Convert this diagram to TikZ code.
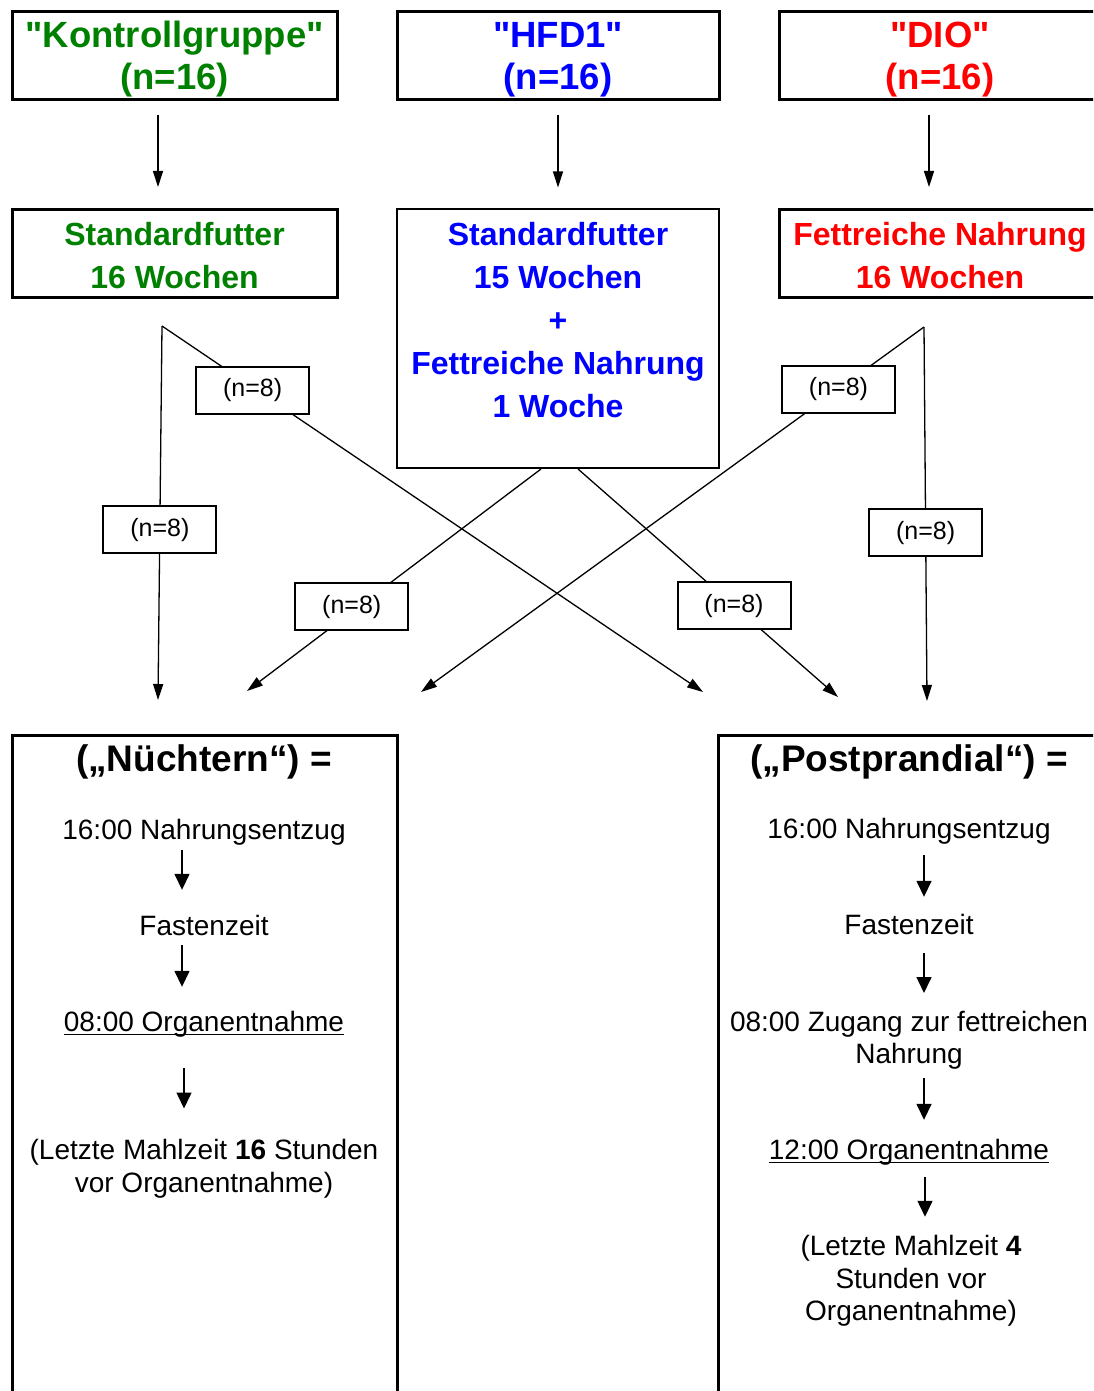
\documentclass[tikz,border=0pt]{standalone}
\usepackage{fontspec}
\setmainfont{Liberation Sans}[Ligatures=TeXOff]
\usetikzlibrary{arrows.meta}
\definecolor{kgreen}{RGB}{0,128,0}
\newcommand\ulin[1]{\setbox0\hbox{#1}\rlap{\rule[-3.5pt]{\wd0}{1.5pt}}\box0}

\begin{document}
\begin{tikzpicture}[
  x=1pt, y=-1pt,
  group_box/.style={draw, line width=3pt, minimum width=322pt, minimum height=88pt, inner sep=0pt, align=center, text height=75.5pt, font=\fontsize{36.5}{42}\selectfont\bfseries},
  diet_txt/.style={inner sep=0pt, align=center, font=\fontsize{32}{43}\selectfont\bfseries},
  diet_box/.style={diet_txt, draw, line width=3pt, minimum width=322pt, minimum height=88pt, text height=71pt},
  n_box/.style={draw, fill=white, line width=2pt, minimum width=113pt, minimum height=47pt, inner sep=0pt, font=\fontsize{25}{30}\selectfont},
  result_box/.style={draw, line width=3pt, minimum height=690pt, inner sep=0pt},
  result_title/.style={inner sep=0pt, font=\fontsize{37}{42}\selectfont\bfseries},
  step_txt/.style={inner sep=0pt, text height=21pt, text depth=6pt, font=\fontsize{28}{32.5}\selectfont},
  multi_txt/.style={inner sep=0pt, align=center, font=\fontsize{28}{32.5}\selectfont},
  split_arrow/.style={line width=1.3pt, -{Triangle[length=16pt, width=10pt]}},
  time_arrow/.style={line width=1.5pt, -{Triangle[length=16pt, width=15pt]}},
]
\useasboundingbox (0,0) rectangle (1093,1391);
\clip (0,0) rectangle (1093,1391);

% groups
\draw (174.5,56) node (kTop) [group_box, minimum width=325pt, text=kgreen] {"Kontrollgruppe"\\(n=16)};
\draw (558,56) node (hTop) [group_box, text=blue] {"HFD1"\\(n=16)};
\draw (940,56) node (dTop) [group_box, text=red] {"DIO"\\(n=16)};

% diets
\draw (174.5,253) node (kMid) [diet_box, minimum width=325pt, text=kgreen] {Standardfutter\\16 Wochen};
\draw (558,338.5) node (hMid) [diet_box, line width=2pt, minimum height=259pt] {};
\draw (558,320.5) node (hMidTxt) [diet_txt, text=blue] {Standardfutter\\15 Wochen\\+\\Fettreiche Nahrung\\1 Woche};
\draw (940,253) node (dMid) [diet_box, text=red] {Fettreiche Nahrung\\16 Wochen};

\draw[split_arrow, shorten <=13.5pt, shorten >=20.5pt] ([xshift=-16.5pt]kTop.south) -- ([xshift=-16.5pt]kMid.north);
\draw[split_arrow, shorten <=13.5pt, shorten >=20.5pt] (hTop.south) -- (hMid.north);
\draw[split_arrow, shorten <=13.5pt, shorten >=20.5pt] ([xshift=-11pt]dTop.south) -- ([xshift=-11pt]dMid.north);

% splitting into the two sampling times
\coordinate (kFork) at (162,326);
\coordinate (dFork) at (924,327);
\coordinate (kEndL) at (158,700);
\coordinate (kEndR) at (703,692);
\coordinate (hEndL) at (247,691);
\coordinate (hEndR) at (838,697);
\coordinate (dEndL) at (421,692);
\coordinate (dEndR) at (927,701);

\draw[split_arrow] (kFork) -- node[n_box, pos=0.545] (kN1) {(n=8)} (kEndL);
\draw[split_arrow] (kFork) -- node[n_box, pos=0.175, xshift=-4pt] (kN2) {(n=8)} (kEndR);
\draw[split_arrow] ([xshift=-17pt]hMid.south) -- node[n_box, pos=0.62, xshift=-7pt] (hN1) {(n=8)} (hEndL);
\draw[split_arrow] ([xshift=20pt]hMid.south) -- node[n_box, pos=0.6] (hN2) {(n=8)} (hEndR);
\draw[split_arrow] (dFork) -- node[n_box, pos=0.17] (dN1) {(n=8)} (dEndL);
\draw[split_arrow] (dFork) -- node[n_box, pos=0.55] (dN2) {(n=8)} (dEndR);

% fasting
\draw (204.5,1080) node (nBox) [result_box, minimum width=385pt] {};
\draw (204,762) node (nTitle) [result_title] {(„Nüchtern“) =};
\draw (204,831.5) node (n1) [step_txt] {16:00 Nahrungsentzug};
\draw (204,928) node (n2) [step_txt] {Fastenzeit};
\draw (204,1024) node (n3) [step_txt] {\ulin{08:00 Organentnahme}};
\draw (204,1168.5) node (n4) [multi_txt] {(Letzte Mahlzeit \textbf{16} Stunden\\vor Organentnahme)};

\draw[time_arrow, shorten <=5pt, shorten >=24.5pt] ([xshift=-22pt]n1.south) -- ([xshift=-22pt]n2.north);
\draw[time_arrow, shorten <=3.5pt, shorten >=23.5pt] ([xshift=-22pt]n2.south) -- ([xshift=-22pt]n3.north);
\draw[time_arrow, shorten <=30.5pt, shorten >=30.5pt] ([xshift=-20pt]n3.south) -- ([xshift=-20pt]n4.north);

% postprandial
\draw (909.5,1080) node (pBox) [result_box, minimum width=383pt] {};
\draw (909,762) node (pTitle) [result_title] {(„Postprandial“) =};
\draw (909,831) node (p1) [step_txt] {16:00 Nahrungsentzug};
\draw (909,927) node (p2) [step_txt] {Fastenzeit};
\draw (909,1040) node (p3) [multi_txt] {08:00 Zugang zur fettreichen\\Nahrung};
\draw (909,1152) node (p4) [step_txt] {\ulin{12:00 Organentnahme}};
\draw (911,1281) node (p5) [multi_txt] {(Letzte Mahlzeit \textbf{4}\\Stunden vor\\Organentnahme)};

\draw[time_arrow, shorten <=10.5pt, shorten >=16.5pt] ([xshift=15pt]p1.south) -- ([xshift=15pt]p2.north);
\draw[time_arrow, shorten <=12.5pt, shorten >=17.5pt] ([xshift=15pt]p2.south) -- ([xshift=15pt]p3.north);
\draw[time_arrow, shorten <=8.5pt, shorten >=18.5pt] ([xshift=15pt]p3.south) -- ([xshift=15pt]p4.north);
\draw[time_arrow, shorten <=11.5pt, shorten >=18.5pt] ([xshift=16pt]p4.south) -- ([xshift=14pt]p5.north);
\end{tikzpicture}
\end{document}
